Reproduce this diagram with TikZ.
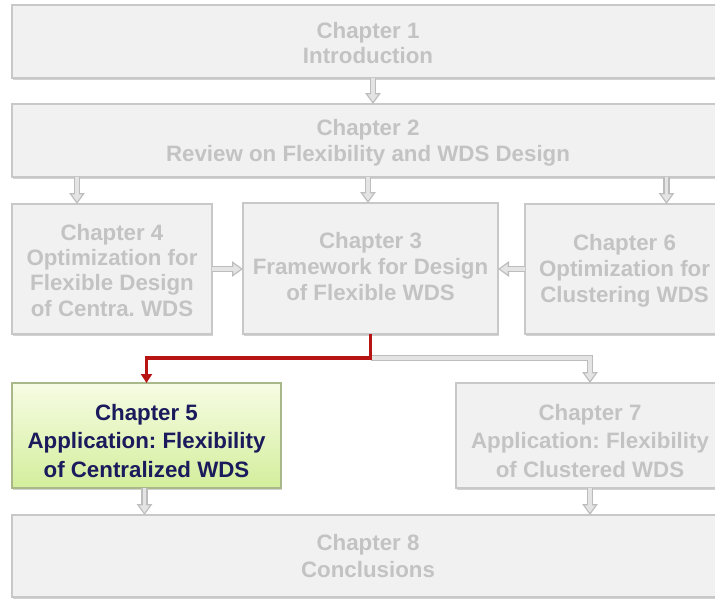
\documentclass[tikz,border=0pt]{standalone}
\usepackage{fontspec}
\setmainfont{Liberation Sans}
\frenchspacing
\usetikzlibrary{arrows.meta,shadows,calc}
\definecolor{boxfill}{HTML}{F1F1F1}
\definecolor{boxline}{HTML}{C8C8C8}
\definecolor{boxtext}{HTML}{C3C3C3}
\definecolor{arrowline}{HTML}{BDBDBD}
\definecolor{arrowfill}{HTML}{E4E4E4}
\definecolor{redline}{HTML}{B81414}
\definecolor{hitop}{HTML}{F7FCE4}
\definecolor{hibot}{HTML}{D3EE9C}
\definecolor{hiline}{HTML}{A8B888}
\definecolor{hitext}{HTML}{1A1A5C}
\tikzset{
  chbox/.style={draw=boxline, line width=1.1pt, fill=boxfill, text=boxtext,
    align=center, inner sep=0pt, outer sep=0pt,
    font=\fontsize{22.3}{26}\bfseries\selectfont,
    drop shadow={shadow xshift=1.2pt, shadow yshift=-2pt, opacity=0.35, fill=gray}},
  hibox/.style={chbox, draw=hiline, top color=hitop, bottom color=hibot, text=hitext},
  grarrow/.style={draw=arrowline, line width=6.5pt,
    -{Triangle[width=15pt,length=11pt]},
    postaction={draw=arrowfill, line width=3.5pt, shorten >=2.2pt,
      -{Triangle[width=10pt,length=7.5pt]}}},
  redarrow/.style={draw=redline, line width=3.4pt,
    -{Triangle[width=11pt,length=9pt]}},
}
\begin{document}
\begin{tikzpicture}[x=1pt,y=-1pt]
\useasboundingbox[fill=white] (0,0) rectangle (715,598);
\node[chbox, minimum width=712pt, minimum height=73pt, text height=44.5pt,
  font=\fontsize{22.3}{25}\bfseries\selectfont] (c1) at (368,41.5) {Chapter 1\\Introduction};
\node[chbox, minimum width=712pt, minimum height=73pt, text height=46.5pt] (c2) at (368,140.5) {Chapter 2\\Review on Flexibility and WDS Design};
\node[chbox, minimum width=200pt, minimum height=130pt, text height=94.8pt,
  font=\fontsize{22.3}{25.3}\bfseries\selectfont] (c4) at (112,269) {Chapter 4\\Optimization for\\Flexible Design\\of Centra. WDS};
\node[chbox, minimum width=255pt, minimum height=131pt, text depth=4.3pt] (c3) at (370.5,268.5) {Chapter 3\\Framework for Design\\of Flexible WDS};
\node[chbox, minimum width=199pt, minimum height=130pt, text height=72.5pt] (c6) at (624.5,269) {Chapter 6\\Optimization for\\Clustering WDS};
\node[hibox, minimum width=269pt, minimum height=105pt, text height=85.2pt,
  font=\fontsize{22.3}{29}\bfseries\selectfont] (c5) at (146.5,435.5) {Chapter 5\\Application: Flexibility\\of Centralized WDS};
\node[chbox, minimum width=268pt, minimum height=105pt, text height=85.2pt,
  font=\fontsize{22.3}{29}\bfseries\selectfont] (c7) at (590,435.5) {Chapter 7\\Application: Flexibility\\of Clustered WDS};
\node[chbox, minimum width=712pt, minimum height=82pt,
  font=\fontsize{22.3}{27}\bfseries\selectfont] (c8) at (368,556) {Chapter 8\\Conclusions};
% connectors
\draw[grarrow] ([xshift=5pt]c1.south) -- ([xshift=5pt]c1.south |- c2.north);
\draw[grarrow] ([xshift=-35pt]c4.north |- c2.south) -- ([xshift=-35pt]c4.north);
\draw[grarrow] (c2.south) -- (c2.south |- c3.north);
\draw[grarrow] ([xshift=42pt]c6.north |- c2.south) -- ([xshift=42pt]c6.north);
\draw[grarrow] (c4.east) -- (c4.east -| c3.west);
\draw[grarrow] (c6.west) -- (c6.west -| c3.east);
\coordinate (br) at ($(c3.south)+(0,24)$);
\draw[grarrow] (br) -| (c7.north);
\draw[redarrow] (c3.south) -- (br) -| (c5.north);
\draw[grarrow] ([xshift=-2pt]c5.south) -- ([xshift=-2pt]c5.south |- c8.north);
\draw[grarrow] (c7.south) -- (c7.south |- c8.north);
\end{tikzpicture}
\end{document}
